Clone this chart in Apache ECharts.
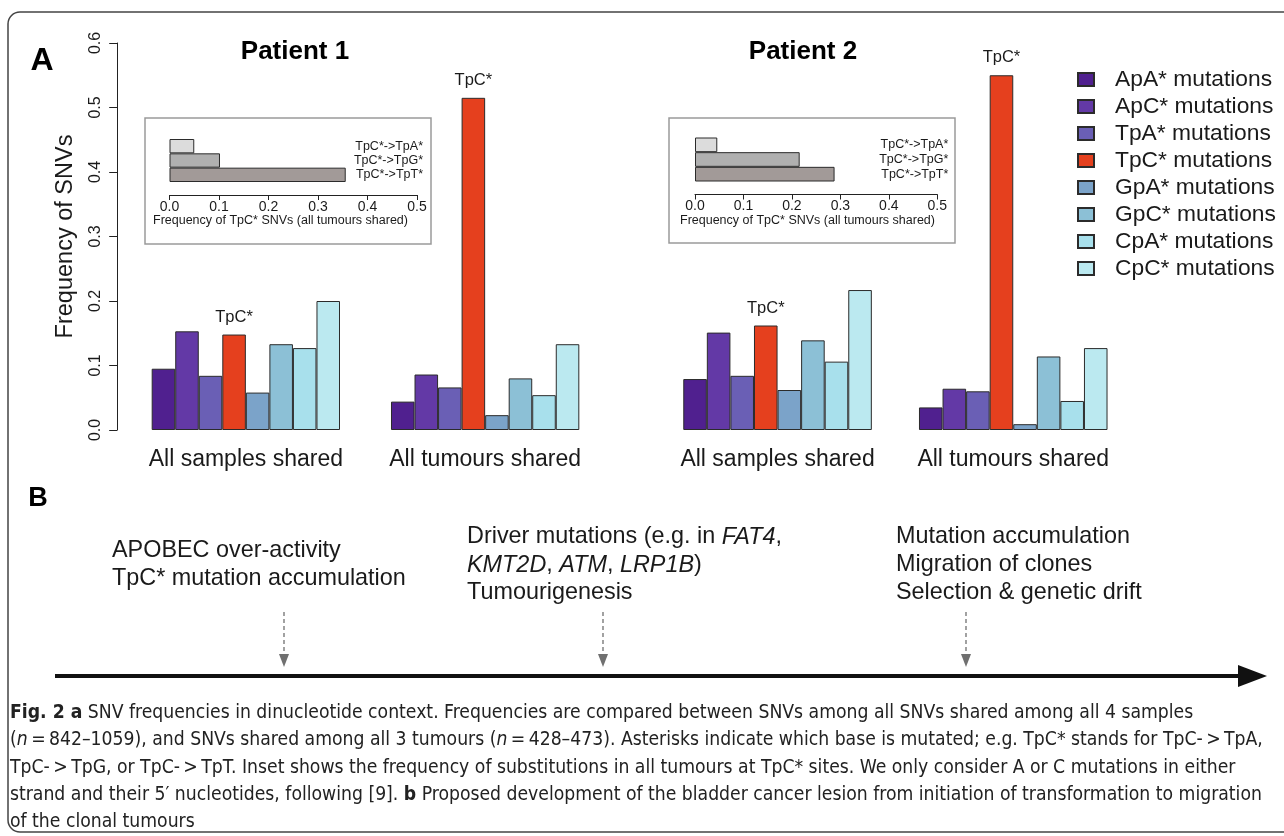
<!DOCTYPE html>
<html>
<head>
<meta charset="utf-8">
<script src="https://cdn.jsdelivr.net/npm/echarts@6/dist/echarts.min.js"></script>
<style>
html,body{margin:0;padding:0;background:#fff;}
#chart{width:1284px;height:836px;}
</style>
</head>
<body>
<div id="chart"></div>
<script>
// ---------- data ----------
const groupCategories = ['All samples shared', 'All tumours shared'];
const mutationTypes = ['ApA* mutations', 'ApC* mutations', 'TpA* mutations', 'TpC* mutations',
                       'GpA* mutations', 'GpC* mutations', 'CpA* mutations', 'CpC* mutations'];
const p1Samples = [0.095, 0.153, 0.084, 0.148, 0.058, 0.133, 0.127, 0.200];
const p1Tumours = [0.044, 0.086, 0.066, 0.515, 0.023, 0.080, 0.054, 0.133];
const p2Samples = [0.079, 0.151, 0.084, 0.162, 0.062, 0.139, 0.106, 0.217];
const p2Tumours = [0.035, 0.064, 0.060, 0.550, 0.009, 0.114, 0.045, 0.127];
const insetCategories = ['TpC*->TpA*', 'TpC*->TpG*', 'TpC*->TpT*'];
const p1Inset = [0.050, 0.102, 0.356];
const p2Inset = [0.046, 0.216, 0.288];
const patientTitles = ['Patient 1', 'Patient 2'];
const insetAxisTitle = 'Frequency of TpC* SNVs (all tumours shared)';
const timelineNotes = [
  ['APOBEC over-activity', 'TpC* mutation accumulation'],
  ['Driver mutations (e.g. in {i|FAT4},', '{i|KMT2D}, {i|ATM}, {i|LRP1B})', 'Tumourigenesis'],
  ['Mutation accumulation', 'Migration of clones', 'Selection & genetic drift']
];
const captionLines = [
  '{b|Fig. 2 a} SNV frequencies in dinucleotide context. Frequencies are compared between SNVs among all SNVs shared among all 4 samples',
  '({i|n}\u2009=\u2009842\u20131059), and SNVs shared among all 3 tumours ({i|n}\u2009=\u2009428\u2013473). Asterisks indicate which base is mutated; e.g. TpC* stands for TpC-\u2009>\u2009TpA,',
  'TpC-\u2009>\u2009TpG, or TpC-\u2009>\u2009TpT. Inset shows the frequency of substitutions in all tumours at TpC* sites. We only consider A or C mutations in either',
  'strand and their 5\u2032 nucleotides, following [9]. {b|b} Proposed development of the bladder cancer lesion from initiation of transformation to migration',
  'of the clonal tumours'
];

// ---------- styles ----------
const colors = ['#50208f', '#6339a6', '#6a5fb5', '#e5401e', '#7ba3c9', '#8cc0d6', '#a8e0ec', '#bbe9f0'];
const insetColors = ['#dcdcdc', '#b0b0b0', '#a29a98'];
const FONT = '"Liberation Sans", Arial, Helvetica, sans-serif';
const NARROW = '"DejaVu Sans Condensed", "Liberation Sans Narrow", sans-serif';
const ink = '#1a1a1a';
const capSize = 19.2;

const chart = echarts.init(document.getElementById('chart'), null, {renderer: 'canvas'});

const mainSeries = [];
[[p1Samples, p1Tumours, 0], [p2Samples, p2Tumours, 1]].forEach(([a, b, gi]) => {
  mutationTypes.forEach((name, i) => {
    mainSeries.push({
      type: 'bar', name: name, xAxisIndex: gi, yAxisIndex: gi,
      data: [a[i], b[i]],
      barGap: '0%', barCategoryGap: gi === 0 ? '21.3%' : '20%',
      itemStyle: {color: colors[i], borderColor: '#2b2b2b', borderWidth: 1},
      label: i === 3 ? {show: true, position: 'top', distance: 9, formatter: 'TpC*',
                        fontFamily: FONT, fontSize: 16.5, color: ink} : {show: false},
      emphasis: {disabled: true}
    });
  });
});

const insetSeries = [[p1Inset, 2], [p2Inset, 3]].map(([vals, gi]) => ({
  type: 'bar', xAxisIndex: gi, yAxisIndex: gi, barCategoryGap: '0%',
  data: vals.map((v, k) => ({value: v, itemStyle: {color: insetColors[k]}})),
  itemStyle: {borderColor: '#2b2b2b', borderWidth: 1},
  emphasis: {disabled: true}
}));

function mainX(gi) {
  return {type: 'category', gridIndex: gi, data: groupCategories,
    axisLine: {show: false}, axisTick: {show: false},
    axisLabel: {interval: 0, hideOverlap: false, fontFamily: FONT, fontSize: 23, color: ink, margin: 18}};
}
function insetX(gi) {
  return {type: 'value', gridIndex: gi, min: 0, max: 0.5, interval: 0.1, offset: 13,
    axisLine: {show: true, lineStyle: {color: '#222', width: 1}},
    axisTick: {show: true, length: 5, lineStyle: {color: '#222'}},
    splitLine: {show: false},
    axisLabel: {fontFamily: FONT, fontSize: 14, color: ink, margin: 5,
      formatter: v => v.toFixed(1)}};
}
function insetY(gi, margin) {
  return {type: 'category', gridIndex: gi, data: insetCategories, inverse: true,
    position: 'right', axisLine: {show: false}, axisTick: {show: false},
    axisLabel: {inside: true, interval: 0, hideOverlap: false, margin: margin,
      fontFamily: FONT, fontSize: 12.5, color: ink}};
}

const graphics = [];
// frame
graphics.push({type: 'rect', shape: {x: 8, y: 12, width: 1300, height: 820, r: 12},
  style: {fill: null, stroke: '#444', lineWidth: 1.5}, z: 0});
// panel letters
graphics.push({type: 'text', x: 42, y: 61, style: {text: 'A', font: 'bold 32px ' + FONT, fill: '#000', align: 'center', verticalAlign: 'middle'}});
graphics.push({type: 'text', x: 38, y: 499, style: {text: 'B', font: 'bold 27px ' + FONT, fill: '#000', align: 'center', verticalAlign: 'middle'}});
// titles
[[295, 52], [803, 52]].forEach((p, k) => {
  graphics.push({type: 'text', x: p[0], y: p[1], style: {text: patientTitles[k], font: 'bold 26px ' + FONT, fill: '#000', align: 'center', verticalAlign: 'middle'}});
});
// inset boxes and titles
[[145, 118, 286, 126, 153, 221], [669, 118, 286, 125, 680, 221]].forEach(b => {
  graphics.push({type: 'rect', shape: {x: b[0], y: b[1], width: b[2], height: b[3]},
    style: {fill: null, stroke: '#9a9a9a', lineWidth: 1.5}});
  graphics.push({type: 'text', x: b[4], y: b[5], style: {text: insetAxisTitle, font: '12.5px ' + FONT, fill: ink, align: 'left', verticalAlign: 'middle'}});
});
// panel B notes
const notePos = [[112, 551], [467, 537], [896, 537]];
timelineNotes.forEach((lines, k) => {
  lines.forEach((t, j) => {
    graphics.push({type: 'text', x: notePos[k][0], y: notePos[k][1] + j * 28,
      style: {text: t, font: '23.4px ' + FONT, fill: ink, align: 'left', verticalAlign: 'middle',
        rich: {i: {fontStyle: 'italic', fontSize: 23.4, fontFamily: FONT, fill: ink}}}});
  });
});
// dashed arrows
[284, 603, 966].forEach(x => {
  graphics.push({type: 'line', shape: {x1: x, y1: 612, x2: x, y2: 656},
    style: {stroke: '#707070', lineWidth: 1.3, lineDash: [4, 3]}});
  graphics.push({type: 'polygon', shape: {points: [[x - 5, 654], [x + 5, 654], [x, 667]]},
    style: {fill: '#707070'}});
});
// timeline
graphics.push({type: 'line', shape: {x1: 55, y1: 676, x2: 1245, y2: 676},
  style: {stroke: '#111', lineWidth: 4}});
graphics.push({type: 'polygon', shape: {points: [[1238, 665], [1267, 676], [1238, 687]]},
  style: {fill: '#111'}});
// caption
captionLines.forEach((t, j) => {
  graphics.push({type: 'text', x: 10, y: 713 + j * 27.3,
    style: {text: t, font: capSize + 'px ' + NARROW, fill: '#222', align: 'left', verticalAlign: 'middle',
      rich: {b: {fontWeight: 'bold', fontSize: capSize, fontFamily: NARROW, fill: '#222'},
             i: {fontStyle: 'italic', fontSize: capSize, fontFamily: NARROW, fill: '#222'}}}});
});

const option = {
  backgroundColor: '#fff',
  animation: false,
  textStyle: {fontFamily: FONT},
  grid: [
    {left: 126.2, top: 43, width: 478.6, height: 387},
    {left: 659.7, top: 43, width: 471.4, height: 387},
    {left: 169.5, top: 139, width: 247.5, height: 43},
    {left: 695, top: 137.5, width: 242.3, height: 44}
  ],
  xAxis: [mainX(0), mainX(1), insetX(2), insetX(3)],
  yAxis: [
    {type: 'value', gridIndex: 0, min: 0, max: 0.6, interval: 0.1, offset: 9,
      axisLine: {show: true, lineStyle: {color: '#222', width: 1}},
      axisTick: {show: true, length: 8, lineStyle: {color: '#222'}},
      splitLine: {show: false},
      axisLabel: {rotate: 90, margin: 14, fontFamily: FONT, fontSize: 16, color: ink,
        formatter: v => v.toFixed(1)},
      name: 'Frequency of SNVs', nameLocation: 'middle', nameGap: 40,
      nameTextStyle: {fontFamily: FONT, fontSize: 23.5, color: ink}},
    {type: 'value', gridIndex: 1, min: 0, max: 0.6, interval: 0.1, show: false},
    insetY(2, -6), insetY(3, -11)
  ],
  legend: {
    data: mutationTypes, orient: 'vertical', left: 1072, top: 63, icon: 'rect',
    itemWidth: 16, itemHeight: 13, itemGap: 4, selectedMode: false,
    textStyle: {fontFamily: FONT, fontSize: 22.8, color: ink, lineHeight: 20, padding: [0, 0, 0, 16]}
  },
  series: mainSeries.concat(insetSeries),
  graphic: {elements: graphics}
};
chart.setOption(option);
</script>
</body>
</html>
